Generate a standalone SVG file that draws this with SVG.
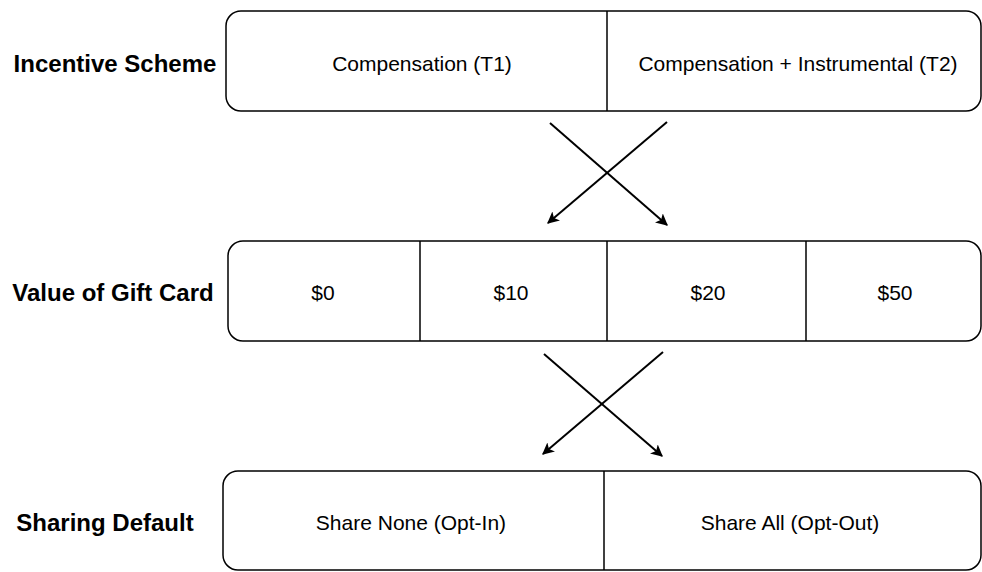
<svg xmlns="http://www.w3.org/2000/svg" width="982" height="572" viewBox="0 0 982 572">
<style>
.box{fill:#fff;stroke:#000;stroke-width:1.5}
.div{stroke:#000;stroke-width:1.5}
.lbl{font-family:"Liberation Sans",Arial,sans-serif;font-weight:bold;font-size:24px;fill:#000;text-anchor:middle;dominant-baseline:central}
.t{font-family:"Liberation Sans",Arial,sans-serif;font-size:21px;fill:#000;text-anchor:middle;dominant-baseline:central}
.c{stroke:#000;stroke-width:2;fill:none;marker-end:url(#ah)}
</style>
<defs>
<marker id="ah" viewBox="0 0 10 10" refX="9" refY="5" markerWidth="6" markerHeight="6" orient="auto" markerUnits="strokeWidth">
<path d="M0,0 L10,5 L0,10 L2.5,5 Z" fill="#000"/>
</marker>
</defs>
<rect width="982" height="572" fill="#fff"/>
<g id="incentive">
<text class="lbl" x="115" y="63">Incentive Scheme</text>
<rect class="box" x="226" y="11" width="755" height="100" rx="15"/>
<line class="div" x1="607" y1="11" x2="607" y2="111"/>
<text class="t" x="422" y="63">Compensation (T1)</text>
<text class="t" x="798" y="63">Compensation + Instrumental (T2)</text>
</g>
<g id="giftcard">
<text class="lbl" x="113" y="292">Value of Gift Card</text>
<rect class="box" x="228" y="241" width="753" height="100" rx="15"/>
<line class="div" x1="420" y1="241" x2="420" y2="341"/>
<line class="div" x1="607" y1="241" x2="607" y2="341"/>
<line class="div" x1="806" y1="241" x2="806" y2="341"/>
<text class="t" x="323" y="292">$0</text>
<text class="t" x="511" y="292">$10</text>
<text class="t" x="708" y="292">$20</text>
<text class="t" x="895" y="292">$50</text>
</g>
<g id="sharing">
<text class="lbl" x="105" y="522">Sharing Default</text>
<rect class="box" x="223" y="471" width="758" height="99" rx="15"/>
<line class="div" x1="604" y1="471" x2="604" y2="570"/>
<text class="t" x="411" y="522">Share None (Opt-In)</text>
<text class="t" x="790" y="522">Share All (Opt-Out)</text>
</g>
<g id="connectors">
<line class="c" x1="550" y1="123" x2="667" y2="225"/>
<line class="c" x1="667" y1="122" x2="548" y2="223"/>
<line class="c" x1="544" y1="354" x2="662" y2="456"/>
<line class="c" x1="663" y1="352" x2="543" y2="454"/>
</g>
</svg>
